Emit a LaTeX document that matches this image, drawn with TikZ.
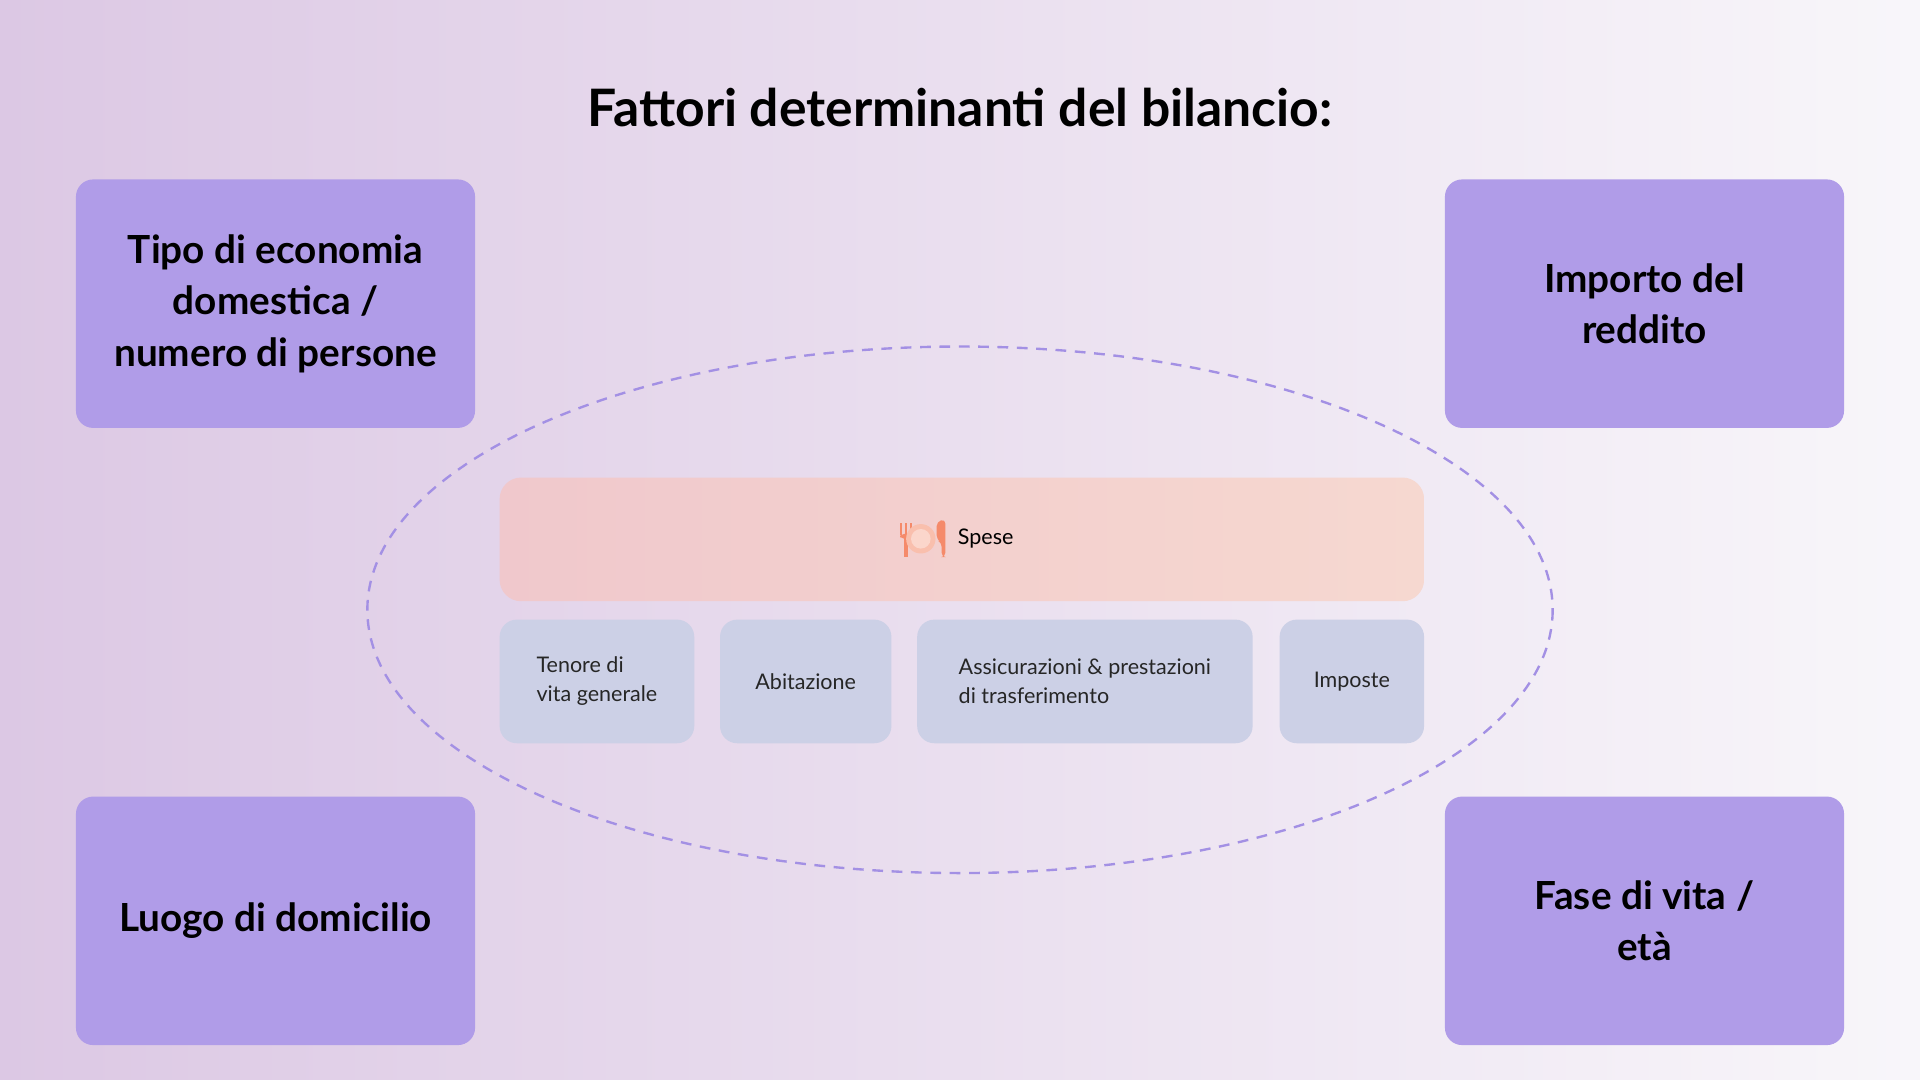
\documentclass[tikz,border=0pt]{standalone}
\usepackage{fontspec}
\setmainfont{Lato}
\usetikzlibrary{positioning}
\definecolor{factor}{HTML}{B09CE8}
\definecolor{item}{HTML}{CCD0E6}
\definecolor{ring}{HTML}{A390E4}
\definecolor{icon}{HTML}{F58A6A}
\begin{document}
\begin{tikzpicture}[x=0.02cm, y=-0.02cm,
    factor/.style={fill=factor, rounded corners=8pt, minimum width=6.52cm, minimum height=4.06cm,
      align=center, font=\fontsize{18}{24}\selectfont\bfseries},
    item/.style={fill=item, rounded corners=8pt, minimum height=2.02cm, align=left,
      font=\fontsize{10}{13.5}\selectfont, text=black!85}]
  % background
  \shade[left color={rgb,255:red,220;green,200;blue,228}, right color={rgb,255:red,248;green,246;blue,250}]
    (0,0) rectangle (1568,882);
  \useasboundingbox (0,0) rectangle (1568,882);
  \node (title) at (784,88) {\fontsize{24}{28}\selectfont\bfseries Fattori determinanti del bilancio:};
  % factors
  \node[factor] (household) at (225,248) {Tipo di economia\\domestica /\\numero di persone};
  \node[factor] (income) at (1343,248) {Importo del\\reddito};
  \node[factor] (place) at (225,752) {Luogo di domicilio};
  \node[factor] (age) at (1343,752) {Fase di vita /\\età};
  % expenses
  \draw[ring, line width=1.1pt, dash pattern=on 5pt off 4pt] (784,498) ellipse [x radius=484, y radius=215];
  \shade[rounded corners=10pt, left color={rgb,255:red,240;green,200;blue,204}, right color={rgb,255:red,246;green,216;blue,208}]
    (408,390) rectangle (1163,491);
  \node[font=\fontsize{10}{12}\selectfont] (spese) at (805,440) {Spese};
  \begin{scope}[shift={(752,440)}, icon, fill=icon]
    \fill (-17,-13) rectangle (-15,-3); \fill (-13,-13) rectangle (-11,-3); \fill (-9,-13) rectangle (-7,-3);
    \fill[rounded corners=2pt] (-17,-4) rectangle (-7,0);
    \fill (-13.5,0) rectangle (-10.5,15);
    \fill[icon!55] (0,0) circle (12);
    \fill[icon!35] (0,0) circle (8);
    \fill[rounded corners=2pt] (13,-14) -- (20,-16) -- (20,15) -- (17,15) -- (17,3) -- (13,1) -- cycle;
  \end{scope}
  \node[item, minimum width=3.18cm] (living) at (487.5,556.5) {Tenore di\\vita generale};
  \node[item, minimum width=2.80cm] (housing) at (658,556.5) {Abitazione};
  \node[item, minimum width=5.48cm] (insurance) at (886,556.5) {Assicurazioni \& prestazioni\\di trasferimento};
  \node[item, minimum width=2.36cm] (taxes) at (1104,556.5) {Imposte};
\end{tikzpicture}
\end{document}
